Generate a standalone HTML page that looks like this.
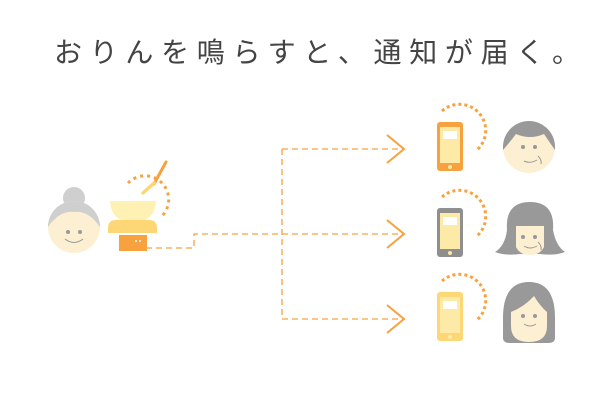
<!DOCTYPE html>
<html><head><meta charset="utf-8"><style>
html,body{margin:0;padding:0;background:#fff;}
svg{display:block}
</style></head><body>
<svg width="615" height="400" viewBox="0 0 615 400" xmlns="http://www.w3.org/2000/svg">
<text x="54" y="62" font-family="'Liberation Sans','Noto Sans CJK JP',sans-serif" font-size="28" fill="#444" textLength="526" lengthAdjust="spacing">おりんを鳴らすと、通知が届く。</text>

<!-- connectors -->
<g stroke="#f7a23f" stroke-width="1.3" fill="none" stroke-dasharray="6,4">
<path d="M146 248 H194 V234 H404"/>
<path d="M282 149 V319"/>
<path d="M282 149 H404"/>
<path d="M282 319 H404"/>
</g>
<g stroke="#f7a23f" stroke-width="2" fill="none">
<path d="M387 135 L404 149 L387 163"/>
<path d="M387 220 L404 234 L387 248"/>
<path d="M387 305 L404 319 L387 333"/>
</g>

<!-- granny -->
<circle cx="74" cy="198" r="11" fill="#cfcfcf"/>
<circle cx="74" cy="227" r="26" fill="#fdefd1"/>
<path d="M48 227 A26 26 0 0 1 100 227 Q88 210 74 212 Q60 210 48 227Z" fill="#cfcfcf"/>
<circle cx="68" cy="232" r="2" fill="#999"/>
<circle cx="80" cy="232" r="2" fill="#999"/>
<path d="M65 239 Q74 246 83 239" stroke="#999" stroke-width="1" fill="none"/>

<!-- bell -->
<path d="M154 184 L166 162" stroke="#f7a23f" stroke-width="3" stroke-linecap="round"/>
<path d="M143 193 L154 183" stroke="#fdd776" stroke-width="3.5" stroke-linecap="round"/>
<path d="M128 183 A20 20 0 0 1 162 216" stroke="#f7a23f" stroke-width="3" fill="none" stroke-dasharray="3,4"/>
<path d="M110 201 H156 Q155 222 133 222 Q111 222 110 201Z" fill="#fef1b3"/>
<path d="M108 228 Q108 220 116 220 H149 Q157 220 157 228 V233 H108Z" fill="#fdd776"/>
<rect x="119" y="235" width="28" height="16" fill="#f7a23f"/>
<circle cx="136" cy="241" r="1" fill="#fff"/><circle cx="140" cy="241" r="1" fill="#fff"/>

<!-- phones -->
<g>
<rect x="437" y="122" width="26" height="49" rx="3" fill="#f7a23f"/>
<rect x="440" y="127" width="20" height="36" fill="#fdeaa7"/>
<rect x="443" y="131" width="14" height="8" fill="#fff"/>
<circle cx="450" cy="167" r="2" fill="#fdeaa7"/>
<path d="M442 111 A26 26 0 0 1 477 150" stroke="#f7a23f" stroke-width="3" fill="none" stroke-dasharray="3,3"/>
</g>
<g>
<rect x="437" y="208" width="26" height="49" rx="3" fill="#8f8f8f"/>
<rect x="440" y="213" width="20" height="36" fill="#fdeaa7"/>
<rect x="443" y="217" width="14" height="8" fill="#fff"/>
<circle cx="450" cy="253" r="2" fill="#fdeaa7"/>
<path d="M442 197 A26 26 0 0 1 477 236" stroke="#f7a23f" stroke-width="3" fill="none" stroke-dasharray="3,3"/>
</g>
<g>
<rect x="437" y="292" width="26" height="49" rx="3" fill="#fdd776"/>
<rect x="440" y="297" width="20" height="36" fill="#fdeaa7"/>
<rect x="443" y="301" width="14" height="8" fill="#fff"/>
<circle cx="450" cy="337" r="2" fill="#fdeaa7"/>
<path d="M442 281 A26 26 0 0 1 477 320" stroke="#f7a23f" stroke-width="3" fill="none" stroke-dasharray="3,3"/>
</g>

<!-- face 1 -->
<circle cx="529" cy="147" r="26" fill="#fdefd1"/>
<path d="M503 147 A26 26 0 0 1 555 147 L555 150 Q548 140 544 134 Q530 140 516 134 Q510 142 503 150Z" fill="#999"/>
<circle cx="523" cy="147" r="2" fill="#999"/><circle cx="535" cy="147" r="2" fill="#999"/>
<path d="M524 161 Q530 164 537 160 M538 156 Q542 160 541 164" stroke="#999" stroke-width="1" fill="none"/>

<!-- face 2 -->
<path d="M507 230 Q505 202 530 202 Q555 202 553 230 Q556 246 565 252 Q555 256 540 254 L520 254 Q505 256 495 252 Q505 246 507 230Z" fill="#999"/>
<path d="M516 226 H544 V247 Q540 255 530 255 Q520 255 516 247Z" fill="#fdefd1"/>
<circle cx="523" cy="237" r="2" fill="#999"/><circle cx="535" cy="237" r="2" fill="#999"/>
<path d="M524 246 Q530 250 537 246 M538 242 Q542 246 541 250" stroke="#999" stroke-width="1" fill="none"/>

<!-- face 3 -->
<path d="M503 318 Q503 282 529 282 Q555 282 555 318 V338 Q555 343 548 343 H510 Q503 343 503 338Z" fill="#999"/>
<path d="M511 312 Q524 307 534 296 Q540 306 547 312 V326 Q547 342 529 342 Q511 342 511 326Z" fill="#fdefd1"/>
<circle cx="523" cy="316" r="2" fill="#999"/><circle cx="535" cy="316" r="2" fill="#999"/>
<path d="M524 324 Q530 328 536 324" stroke="#999" stroke-width="1" fill="none"/>
</svg>
</body></html>
